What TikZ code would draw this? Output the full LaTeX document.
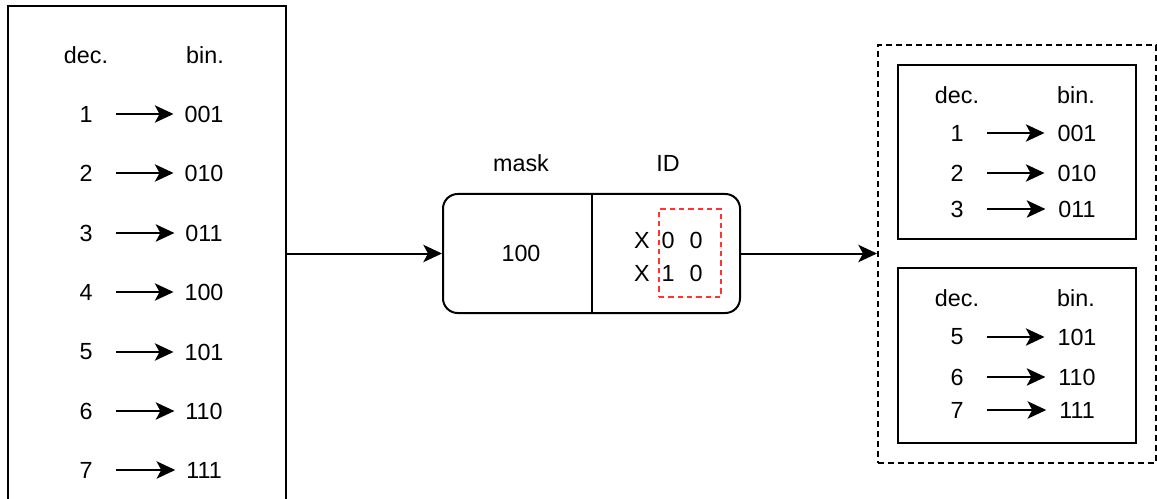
\documentclass[tikz,border=0pt]{standalone}
\usepackage{fontspec}
\setmainfont{Liberation Sans}
\usetikzlibrary{arrows.meta}
\begin{document}
\begin{tikzpicture}[x=0.75pt,y=-0.75pt,
  font=\fontsize{17.5}{20}\selectfont,
  line width=1.5pt,
  arr/.style={-{Stealth[length=14pt,width=13pt,inset=3.5pt]}},
  inarr/.style={arr, shorten <=17pt, shorten >=7.5pt},
  txt/.style={inner sep=0pt, anchor=center},
  box/.style={draw, inner sep=0pt},
  dashbox/.style={draw, dash pattern=on 4.5pt off 3pt, inner sep=0pt},
  reddash/.style={draw=red!80!white, line width=1.2pt, dash pattern=on 4pt off 3pt, inner sep=0pt}]
\useasboundingbox (0,0) rectangle (1157,499);
\clip (0,0) rectangle (1157,499);

% left box
\node[box, minimum width=277.5*0.75pt, minimum height=494*0.75pt] (L) at (146.75,253) {};
\node[txt] (Ldec) at (86,55) {dec.};
\node[txt] (Lbin) at (205,55) {bin.};
\foreach \i/\b/\y in {1/001/114, 2/010/173, 3/011/233, 4/100/292, 5/101/352, 6/110/411, 7/111/470}{
  \node[txt] (Ld\i) at (86,\y) {\i};
  \node[txt] (Lb\i) at (204,\y) {\b};
  \draw[inarr] (Ld\i.east) -- (Lb\i.west);
}

% middle box
\node[draw, rounded corners=11pt, minimum width=297*0.75pt, minimum height=119*0.75pt, inner sep=0pt] (M) at (591.5,253.5) {};
\draw (M.north) -- (M.south);
\node[txt] (mask) at (521,163) {mask};
\node[txt] (id) at (668,163) {ID};
\node[txt] (mval) at (521,253) {100};
\node[txt] (x1) at (642,240) {X};
\node[txt] (a1) at (668,240) {0};
\node[txt] (b1) at (696,240) {0};
\node[txt] (x2) at (642,273) {X};
\node[txt] (a2) at (668,273) {1};
\node[txt] (b2) at (696,273) {0};
\node[reddash, minimum width=62*0.75pt, minimum height=88*0.75pt] (R) at (690,253) {};

% right dashed box
\node[dashbox, minimum width=278*0.75pt, minimum height=418*0.75pt] (D) at (1017,254) {};
\node[box, minimum width=238*0.75pt, minimum height=174*0.75pt] (B1) at (1017,152) {};
\node[box, minimum width=238*0.75pt, minimum height=175*0.75pt] (B2) at (1017,355.5) {};
\node[txt] (B1dec) at (957,95) {dec.};
\node[txt] (B1bin) at (1076,95) {bin.};
\foreach \i/\b/\y in {1/001/133, 2/010/173, 3/011/209}{
  \node[txt] (Rd\i) at (957,\y) {\i};
  \node[txt] (Rb\i) at (1077,\y) {\b};
  \draw[inarr, shorten >=9pt] (Rd\i.east) -- (Rb\i.west);
}
\node[txt] (B2dec) at (957,298) {dec.};
\node[txt] (B2bin) at (1076,298) {bin.};
\foreach \i/\b/\y in {5/101/337, 6/110/377, 7/111/410}{
  \node[txt] (Rd\i) at (957,\y) {\i};
  \node[txt] (Rb\i) at (1077,\y) {\b};
  \draw[inarr, shorten >=9pt] (Rd\i.east) -- (Rb\i.west);
}

% connectors
\draw[arr] (L.east |- M.west) -- (M.west);
\draw[arr] (M.east) -- (M.east -| D.west);
\end{tikzpicture}
\end{document}
